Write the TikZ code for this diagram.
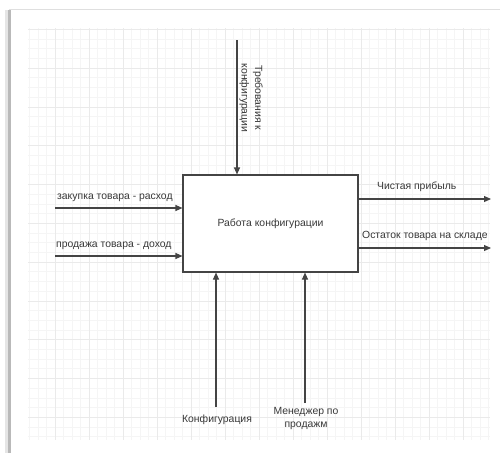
\documentclass[tikz,border=0pt]{standalone}
\usepackage{fontspec}
\setmainfont{Liberation Sans}
\usetikzlibrary{arrows.meta}
\definecolor{ln}{HTML}{444444}
\definecolor{tx}{HTML}{383838}
\definecolor{gmin}{HTML}{F5F5F5}
\definecolor{gmaj}{HTML}{EAEAEA}
\begin{document}
\begin{tikzpicture}[x=1pt,y=-1pt,
  flow/.style={draw=ln, line width=1.1pt, -{Triangle[length=7pt,width=6pt]}},
  lbl/.style={text=tx, font=\fontsize{10.4}{13.5}\selectfont, inner sep=0pt},
  minorline/.style={draw=gmin, line width=0.5pt},
  majorline/.style={draw=gmaj, line width=0.6pt},
  procbox/.style={draw=ln, line width=1.1pt, fill=white, minimum width=175pt, minimum height=97pt, inner sep=0pt}]
\useasboundingbox (0,0) rectangle (500,453);
\fill[white] (0,0) rectangle (500,453);
% card shadow
\fill[gray!20] (5,10) rectangle (8,453);
\fill[gray!55] (8,10) rectangle (10.5,453);
\draw[gray!25, line width=1.2pt] (9,9.6) -- (500,9.6);
% grid
\foreach \i in {1,...,55} {\pgfmathsetmacro\xx{21+8.5*\i}\draw[minorline] (\xx,28) -- (\xx,440);}
\foreach \i in {0,...,42} {\pgfmathsetmacro\yy{29.2+9.7*\i}\draw[minorline] (28,\yy) -- (490,\yy);}
\foreach \i in {1,...,13} {\pgfmathsetmacro\xx{21+34*\i}\draw[majorline] (\xx,28) -- (\xx,440);}
\foreach \i in {0,...,10} {\pgfmathsetmacro\yy{29.2+38.8*\i}\draw[majorline] (28,\yy) -- (490,\yy);}
% process box
\node[procbox] (box) at (270.5,223.5) {};
\node[lbl] (boxlbl) at (box.center) {Работа конфигурации};
% control (top)
\coordinate (tin) at (237,40);
\draw[flow] (tin) -- (tin |- box.north);
\node[lbl, rotate=-90, align=center] (tinlbl) at (251,98) {Требования к\\конфигурации};
% inputs
\coordinate (in1) at (55,208);
\coordinate (in2) at (55,256);
\draw[flow] (in1) -- (in1 -| box.west);
\draw[flow] (in2) -- (in2 -| box.west);
\node[lbl, anchor=base west] (in1lbl) at (57,199.5) {закупка товара - расход};
\node[lbl, anchor=base west] (in2lbl) at (56,247.5) {продажа товара - доход};
% outputs
\coordinate (out1) at (491,199);
\coordinate (out2) at (491,248);
\draw[flow] (out1 -| box.east) -- (out1);
\draw[flow] (out2 -| box.east) -- (out2);
\node[lbl, anchor=base west] (out1lbl) at (377,189.5) {Чистая прибыль};
\node[lbl, anchor=base west] (out2lbl) at (362,238) {Остаток товара на складе};
% mechanisms (bottom)
\coordinate (m1) at (216,407);
\coordinate (m2) at (305,403);
\draw[flow] (m1) -- (m1 |- box.south);
\draw[flow] (m2) -- (m2 |- box.south);
\node[lbl, anchor=base] (m1lbl) at (217,422) {Конфигурация};
\node[lbl, align=center] (m2lbl) at (306,418.5) {Менеджер по\\продажм};
\end{tikzpicture}
\end{document}
